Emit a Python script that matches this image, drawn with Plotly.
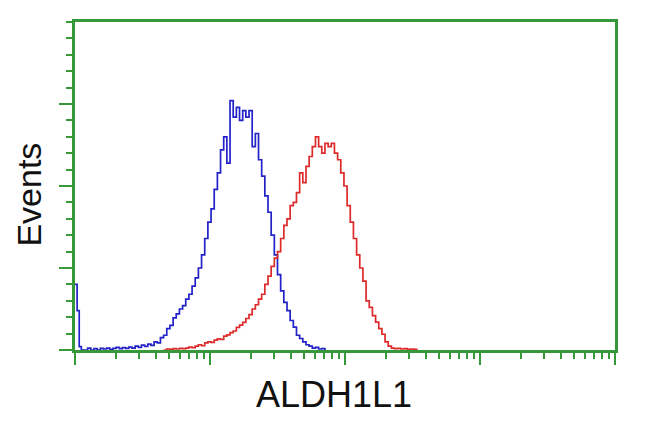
import plotly.graph_objects as go

# Channel numbers (1024-channel, 4-decade log scale) and event counts
blue_channels = [0, 4, 8, 12, 18, 24, 30, 36, 42, 48, 54, 60, 66, 72, 78, 84, 90, 96, 102, 108,
                 114, 120, 126, 132, 138, 144, 150, 156, 162, 168, 174, 180, 186, 192, 198, 204,
                 210, 216, 222, 228, 234, 240, 246, 252, 258, 264, 270, 276, 282, 288, 294, 300,
                 306, 312, 318, 324, 330, 336, 342, 348, 354, 360, 366, 372, 378, 384, 390, 396,
                 402, 408, 414, 420, 426, 432, 438, 444, 450, 456, 462, 468, 474]
blue_counts = [20, 12, 1, 0, 0, 0.6, 0, 0.4, 0, 0.5, 0.3, 0.6, 0.2, 0.5, 0.8, 0.4, 0.7, 0.5, 0.9, 0.6,
               1.2, 0.8, 1.5, 1.1, 1.8, 1.4, 2.5, 2.2, 3.8, 4.5, 6.5, 7.5, 9.8, 11, 12.5, 13.5,
               15.5, 17, 19.5, 22, 25, 29, 34, 39, 43, 49, 54, 61, 65, 57, 76, 71,
               74, 70, 73, 71, 73, 62, 66, 58, 53, 47, 42, 35, 29, 23, 18, 14.5,
               12, 9, 7, 4.5, 3.5, 2.5, 1.6, 1.2, 0.6, 0.8, 0.3, 0.4, 0]

red_channels = [168, 174, 180, 186, 192, 198, 204, 210, 216, 222, 228, 234, 240, 246, 252, 258,
                264, 270, 276, 282, 288, 294, 300, 306, 312, 318, 324, 330, 336, 342, 348, 354,
                360, 366, 372, 378, 384, 390, 396, 402, 408, 414, 420, 426, 432, 438, 444, 450,
                456, 462, 468, 474, 480, 486, 492, 498, 504, 510, 516, 522, 528, 534, 540, 546,
                552, 558, 564, 570, 576, 582, 588, 594, 600, 606, 612, 618, 624, 630, 636, 642, 648]
red_counts = [0, 0.3, 0.2, 0.4, 0.3, 0.5, 0.4, 0.6, 0.9, 0.7, 1.2, 1.6, 1.3, 2.2, 2.5, 2.3,
              3, 3.4, 3.2, 4.2, 4.6, 5.3, 5.8, 6.9, 7.6, 8.4, 9.6, 10.8, 12.5, 13.8, 15.5, 17,
              20, 22.5, 25.5, 28, 30, 34, 38, 40, 44, 45, 48, 54, 51, 56, 59, 62,
              65, 62, 60, 63, 62, 63, 60, 58, 54, 50, 44, 39, 34, 29, 25, 21,
              15, 13, 10.5, 8.5, 6.5, 4.8, 2.5, 1.2, 0.6, 0.4, 0.5, 0.3, 0.4, 0.2, 0.3, 0.2, 0]

x_major_ticks = [1, 10, 100, 1000, 10000]
x_minor_ticks = [m * d for d in [1, 10, 100, 1000] for m in range(2, 10)]
y_major_ticks = [0, 25, 50, 75]
x_title = "ALDH1L1"
y_title = "Events"

CH_PER_DECADE = 256


def to_intensity(chs):
    return [10 ** (c / CH_PER_DECADE) for c in chs]


green = "#35993a"

fig = go.Figure()
fig.add_trace(go.Scatter(x=to_intensity(blue_channels), y=blue_counts, mode="lines",
                         line=dict(color="#2222c8", width=1.7, shape="hv"),
                         showlegend=False, hoverinfo="skip"))
fig.add_trace(go.Scatter(x=to_intensity(red_channels), y=red_counts, mode="lines",
                         line=dict(color="#dd2a2a", width=1.7, shape="hv"),
                         showlegend=False, hoverinfo="skip"))

# the page body adds an 8px margin, so the figure is sized 642x424
fig.update_layout(
    width=642, height=424,
    margin=dict(l=67, r=35, t=14, b=82),
    paper_bgcolor="white", plot_bgcolor="white",
    font=dict(family="Liberation Sans, Arial, sans-serif", color="#111111"),
    xaxis=dict(type="log", range=[0, 4], showgrid=False, zeroline=False,
               showline=True, linecolor=green, linewidth=2.5, mirror=True,
               tickmode="array", tickvals=x_major_ticks, showticklabels=False,
               ticks="outside", ticklen=12, tickwidth=2, tickcolor=green,
               minor=dict(tickmode="array", tickvals=x_minor_ticks, ticks="outside",
                          ticklen=6, tickwidth=2, tickcolor=green, showgrid=False)),
    yaxis=dict(range=[0, 100], showgrid=False, zeroline=False,
               showline=True, linecolor=green, linewidth=2.5, mirror=True,
               tickmode="array", tickvals=y_major_ticks, showticklabels=False,
               ticks="outside", ticklen=13, tickwidth=2, tickcolor=green,
               minor=dict(dtick=5, tick0=0, ticks="outside", ticklen=6, tickwidth=2,
                          tickcolor=green, showgrid=False)),
    annotations=[
        dict(text=x_title, xref="paper", yref="paper", x=0.48, y=-0.137,
             xanchor="center", yanchor="middle", showarrow=False,
             font=dict(size=36, color="#111111")),
        dict(text=y_title, xref="paper", yref="paper", x=-0.0859, y=0.4726,
             xanchor="center", yanchor="middle", showarrow=False, textangle=-90,
             font=dict(size=34, color="#111111")),
    ],
)

fig.write_html("out.html")
